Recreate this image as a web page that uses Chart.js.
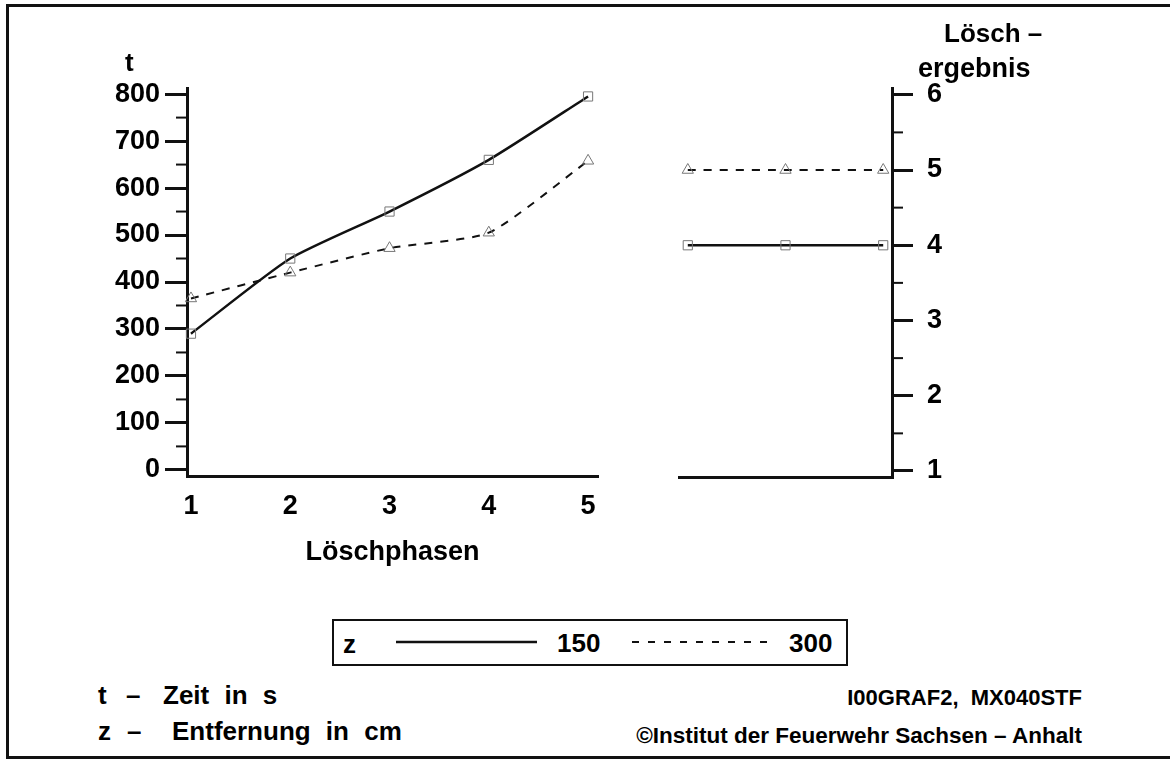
<!DOCTYPE html>
<html>
<head>
<meta charset="utf-8">
<script src="https://cdn.jsdelivr.net/npm/chart.js@4"></script>
<style>
  body { margin: 0; background: #fff; width: 1170px; height: 759px; overflow: hidden; position: relative;
         font-family: "Liberation Sans", Arial, sans-serif; font-weight: bold; color: #000; }
  .frame { position: absolute; left: 6px; top: 4px; width: 1180px; height: 749px;
           border-top: 3px solid #111; border-left: 3px solid #111; border-bottom: 3px solid #111; }
  .txt { position: absolute; white-space: pre; line-height: 1; }
  #left { position: absolute; left: 0; top: 0; }
  #right { position: absolute; left: 640px; top: 0; }
  .legend { position: absolute; left: 332px; top: 619px; width: 512px; height: 43px; border: 2px solid #111; }
  .note { font-size: 26px; word-spacing: 8px; }
</style>
</head>
<body>
<div class="frame"></div>
<canvas id="left" width="620" height="580"></canvas>
<canvas id="right" width="360" height="580"></canvas>

<div class="txt" style="left:125px; top:49px; font-size:26px;">t</div>
<div class="txt" style="left:944px; top:20px; font-size:26px;">Lösch –</div>
<div class="txt" style="left:918px; top:55px; font-size:27px;">ergebnis</div>

<div class="legend">
  <div class="txt" style="left:9px; top:10px; font-size:26px;">z</div>
  <svg style="position:absolute; left:0; top:0;" width="512" height="43">
    <line x1="62" y1="21" x2="203" y2="21" stroke="#111" stroke-width="2.5"/>
    <line x1="298" y1="21" x2="438" y2="21" stroke="#111" stroke-width="2" stroke-dasharray="7,9"/>
  </svg>
  <div class="txt" style="left:223px; top:9px; font-size:26px;">150</div>
  <div class="txt" style="left:455px; top:9px; font-size:26px;">300</div>
</div>

<div class="txt note" style="left:98px; top:682px;">t</div>
<div class="txt note" style="left:126px; top:682px;">–</div>
<div class="txt note" style="left:163px; top:682px;">Zeit in s</div>
<div class="txt note" style="left:98px; top:718px;">z</div>
<div class="txt note" style="left:127px; top:718px;">–</div>
<div class="txt note" style="left:172px; top:718px;">Entfernung in cm</div>
<div class="txt" style="right:88px; top:687px; font-size:22px;">I00GRAF2,  MX040STF</div>
<div class="txt" style="right:88px; top:725px; font-size:22.5px;">©Institut der Feuerwehr Sachsen – Anhalt</div>

<script>
// Löschphasen (left plot) and time t in s for both distances z
const phases = [1, 2, 3, 4, 5];
const time150 = [290, 450, 550, 660, 795];
const time300 = [365, 420, 472, 505, 658];
const timeTicks = [0, 100, 200, 300, 400, 500, 600, 700, 800];
const timeMinor = [50, 150, 250, 350, 450, 550, 650, 750];

// Löschergebnis (right plot)
const resultPos = [1, 2, 3];
const result150 = [4, 4, 4];
const result300 = [5, 5, 5];
const resultTicks = [1, 2, 3, 4, 5, 6];
const resultMinor = [1.5, 2.5, 3.5, 4.5, 5.5];

const ink = '#111';
const bold = size => ({ family: '"Liberation Sans", Arial, sans-serif', weight: 'bold', size: size });

// short minor tick marks on the y axis
const minorTicks = {
  id: 'minorTicks',
  afterDraw(chart, args, opts) {
    const s = chart.scales.y;
    const ctx = chart.ctx;
    ctx.save();
    ctx.strokeStyle = ink;
    ctx.lineWidth = 2;
    opts.values.forEach(v => {
      const py = s.getPixelForValue(v);
      ctx.beginPath();
      if (s.position === 'left') { ctx.moveTo(s.right - opts.len, py); ctx.lineTo(s.right, py); }
      else { ctx.moveTo(s.left, py); ctx.lineTo(s.left + opts.len, py); }
      ctx.stroke();
    });
    ctx.restore();
  }
};

function series(xs, ys, dashed) {
  return {
    data: xs.map((x, i) => ({ x: x, y: ys[i] })),
    borderColor: ink,
    borderWidth: dashed ? 2 : 2.5,
    borderDash: dashed ? [8, 8] : [],
    tension: 0.2,
    pointStyle: dashed ? 'triangle' : 'rect',
    pointRadius: 6.5,
    pointBorderWidth: 1,
    pointBorderColor: '#777',
    pointBackgroundColor: 'rgba(0,0,0,0)',
    clip: false
  };
}

Chart.defaults.animation = false;
Chart.defaults.color = '#000';

new Chart(document.getElementById('left'), {
  type: 'line',
  data: { datasets: [series(phases, time150, false), series(phases, time300, true)] },
  options: {
    responsive: false,
    devicePixelRatio: 1,
    layout: { padding: { top: 88, right: 22, left: 0, bottom: 0 } },
    plugins: { legend: { display: false }, tooltip: { enabled: false }, minorTicks: { values: timeMinor, len: 11 } },
    scales: {
      x: {
        type: 'linear', min: 0.96, max: 5.1,
        afterBuildTicks: s => { s.ticks = phases.map(v => ({ value: v })); },
        afterFit: s => { s.height = 104; },
        border: { color: ink, width: 3 },
        grid: { display: false, drawTicks: false },
        ticks: { font: bold(27), padding: 14 },
        title: { display: true, text: 'Löschphasen', font: bold(27), padding: { top: 4, bottom: 11 } }
      },
      y: {
        min: -13, max: 813,
        afterBuildTicks: s => { s.ticks = timeTicks.map(v => ({ value: v })); },
        afterFit: s => { s.width = 187; },
        border: { color: ink, width: 3 },
        grid: { drawOnChartArea: false, tickLength: 22, lineWidth: 3, color: ink },
        ticks: { font: bold(27), padding: 5 }
      }
    }
  },
  plugins: [minorTicks]
});

new Chart(document.getElementById('right'), {
  type: 'line',
  data: { datasets: [series(resultPos, result150, false), series(resultPos, result300, true)] },
  options: {
    responsive: false,
    devicePixelRatio: 1,
    layout: { padding: { top: 88, right: 0, left: 39, bottom: 0 } },
    plugins: { legend: { display: false }, tooltip: { enabled: false }, minorTicks: { values: resultMinor, len: 11 } },
    scales: {
      x: {
        type: 'linear', min: 0.91, max: 3.09,
        afterFit: s => { s.height = 103; },
        border: { color: ink, width: 3 },
        grid: { display: false, drawTicks: false },
        ticks: { display: false }
      },
      y: {
        position: 'right',
        min: 0.92, max: 6.09,
        afterBuildTicks: s => { s.ticks = resultTicks.map(v => ({ value: v })); },
        afterFit: s => { s.width = 108; },
        border: { color: ink, width: 3 },
        grid: { drawOnChartArea: false, tickLength: 21, lineWidth: 3, color: ink },
        ticks: { font: bold(27), padding: 14 }
      }
    }
  },
  plugins: [minorTicks]
});
</script>
</body>
</html>
